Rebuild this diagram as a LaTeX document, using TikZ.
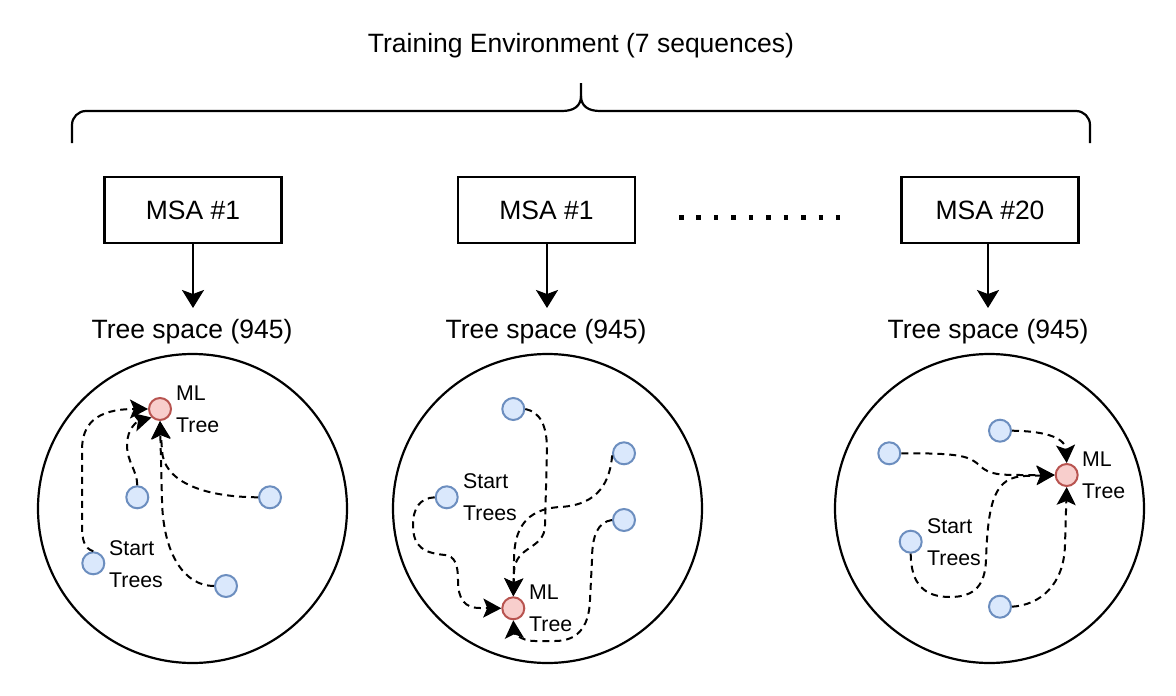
\documentclass[tikz,border=0pt]{standalone}
\usepackage{fontspec}
\setmainfont{Liberation Sans}
\usetikzlibrary{arrows.meta}
\definecolor{bfill}{HTML}{DAE8FC}
\definecolor{bdraw}{HTML}{6C8EBF}
\definecolor{rfill}{HTML}{F8CECC}
\definecolor{rdraw}{HTML}{B85450}
\begin{document}
\begin{tikzpicture}[x=1pt,y=-1pt,
  bigtxt/.style={font=\fontsize{26.5}{31}\selectfont, inner sep=0, anchor=base},
  smtxt/.style={font=\fontsize{21.3}{25}\selectfont, inner sep=0, anchor=base west},
  msabox/.style={draw, line width=2.2pt, minimum width=177pt, minimum height=66pt, inner sep=0, font=\fontsize{26.5}{31}\selectfont},
  treespace/.style={circle, draw, line width=2.2pt, minimum size=309pt, inner sep=0},
  bt/.style={circle, draw=bdraw, fill=bfill, line width=2pt, minimum size=22pt, inner sep=0},
  mlt/.style={circle, draw=rdraw, fill=rfill, line width=2pt, minimum size=22pt, inner sep=0},
  walk/.style={line width=2pt, dash pattern=on 7pt off 5pt, -{Stealth[length=18pt,width=19pt,inset=4pt]}},
  mainarrow/.style={line width=2.2pt, -{Stealth[length=18pt,width=22pt,inset=4pt]}},
  bracestyle/.style={line width=2.2pt},
]
\useasboundingbox (0,0) rectangle (1176,696);

% title and brace
\node[bigtxt] (title) at (581,52) {Training Environment (7 sequences)};
\draw[bracestyle, rounded corners=14pt] (72,143) -- (72,111) -- (562,111);
\draw[bracestyle] (562,111) .. controls (574,111) and (581,106) .. (581,96) -- (581,83);
\draw[bracestyle] (600,111) .. controls (588,111) and (581,106) .. (581,96);
\draw[bracestyle, rounded corners=14pt] (600,111) -- (1090,111) -- (1090,143);

% boxes
\node[msabox] (msa1) at (193,210) {MSA \#1};
\node[msabox] (msa2) at (546.5,210) {MSA \#1};
\node[msabox] (msa3) at (990,210) {MSA \#20};
\draw[line width=4.5pt, dash pattern=on 4.5pt off 12.94pt] (679,217.5) -- (843,217.5);

\coordinate (t1) at (193,308);
\coordinate (t2) at (547,308);
\coordinate (t3) at (988,308);
\draw[mainarrow] (msa1.south -| t1) -- (t1);
\draw[mainarrow] (msa2.south -| t2) -- (t2);
\draw[mainarrow] (msa3.south -| t3) -- (t3);

\node[bigtxt] (ts1) at (192,338) {Tree space (945)};
\node[bigtxt] (ts2) at (546,338) {Tree space (945)};
\node[bigtxt] (ts3) at (988,338) {Tree space (945)};

% big circles
\node[treespace] (c1) at (192.5,508.5) {};
\node[treespace] (c2) at (547.5,508.5) {};
\node[treespace] (c3) at (989.5,508.5) {};

% ---- circle 1
\node[mlt] (ml1) at (160,409) {};
\node[bt] (b1a) at (137.3,497.3) {};
\node[bt] (b1b) at (270,497.3) {};
\node[bt] (s1) at (93.3,563.3) {};
\node[bt] (b1c) at (226,586) {};
\node[smtxt] (ml1t) at (176,400) {ML};
\node[smtxt] (ml1u) at (176,432) {Tree};
\node[smtxt] (s1t) at (109,555) {Start};
\node[smtxt] (s1u) at (109,587) {Trees};

\draw[walk] (s1.north) .. controls (84,548) and (82,540) .. (82,525) -- (82,450) .. controls (82,425) and (95,409) .. (ml1.west);
\draw[walk] (b1a.north) .. controls (137,470) and (127,462) .. (127,445) .. controls (127,428) and (138,421) .. (ml1.south west);
\draw[walk] (b1c.west) .. controls (185,586) and (163,555) .. (162,500) -- (ml1.south);
\draw[walk] (b1b.west) .. controls (200,497) and (163,480) .. (162,450) -- (ml1.south);

% ---- circle 2
\node[mlt] (ml2) at (513.3,608.3) {};
\node[bt] (b2a) at (513.3,409) {};
\node[bt] (b2b) at (624,453.3) {};
\node[bt] (s2) at (446.7,497.3) {};
\node[bt] (b2c) at (624,520) {};
\node[smtxt] (s2t) at (463,488) {Start};
\node[smtxt] (s2u) at (463,520) {Trees};
\node[smtxt] (ml2t) at (529,599) {ML};
\node[smtxt] (ml2u) at (529,631) {Tree};

\draw[walk] (b2a.east) .. controls (540,412) and (547,425) .. (547,450) -- (545,525) .. controls (545,550) and (515,545) .. (514,572) -- (ml2.north);
\draw[walk] (b2b.190) .. controls (610,480) and (600,505) .. (560,507) .. controls (525,509) and (514,530) .. (514,560) -- (ml2.north);
\draw[walk] (s2.west) .. controls (420,498) and (413,508) .. (413,525) .. controls (413,548) and (425,553) .. (445,555) .. controls (455,556) and (458,565) .. (458,580) .. controls (458,600) and (465,608) .. (480,608) -- (ml2.west);
\draw[walk] (b2c.west) .. controls (598,522) and (592,535) .. (592,560) -- (590,600) .. controls (589,630) and (575,641) .. (555,641) -- (535,641) .. controls (520,641) and (514,632) .. (ml2.south);

% ---- circle 3
\node[mlt] (ml3) at (1066.7,475) {};
\node[bt] (b3a) at (1000,430.7) {};
\node[bt] (b3b) at (889.3,453.3) {};
\node[bt] (s3) at (910.7,541.7) {};
\node[bt] (b3c) at (1000,606.7) {};
\node[smtxt] (ml3t) at (1082,466) {ML};
\node[smtxt] (ml3u) at (1082,498) {Tree};
\node[smtxt] (s3t) at (927,533) {Start};
\node[smtxt] (s3u) at (927,565) {Trees};

\draw[walk] (b3a.east) .. controls (1040,431) and (1065,436) .. (ml3.north);
\draw[walk] (b3b.east) .. controls (960,453) and (970,456) .. (980,466) .. controls (990,475) and (1000,475) .. (1025,475) -- (ml3.west);
\draw[walk] (s3.south) .. controls (911,585) and (925,597) .. (950,597) .. controls (975,597) and (985,585) .. (986,560) .. controls (988,500) and (995,477) .. (1025,476) -- (ml3.west);
\draw[walk] (b3c.east) .. controls (1040,605) and (1064,585) .. (1065,545) -- (ml3.south);
\end{tikzpicture}
\end{document}
